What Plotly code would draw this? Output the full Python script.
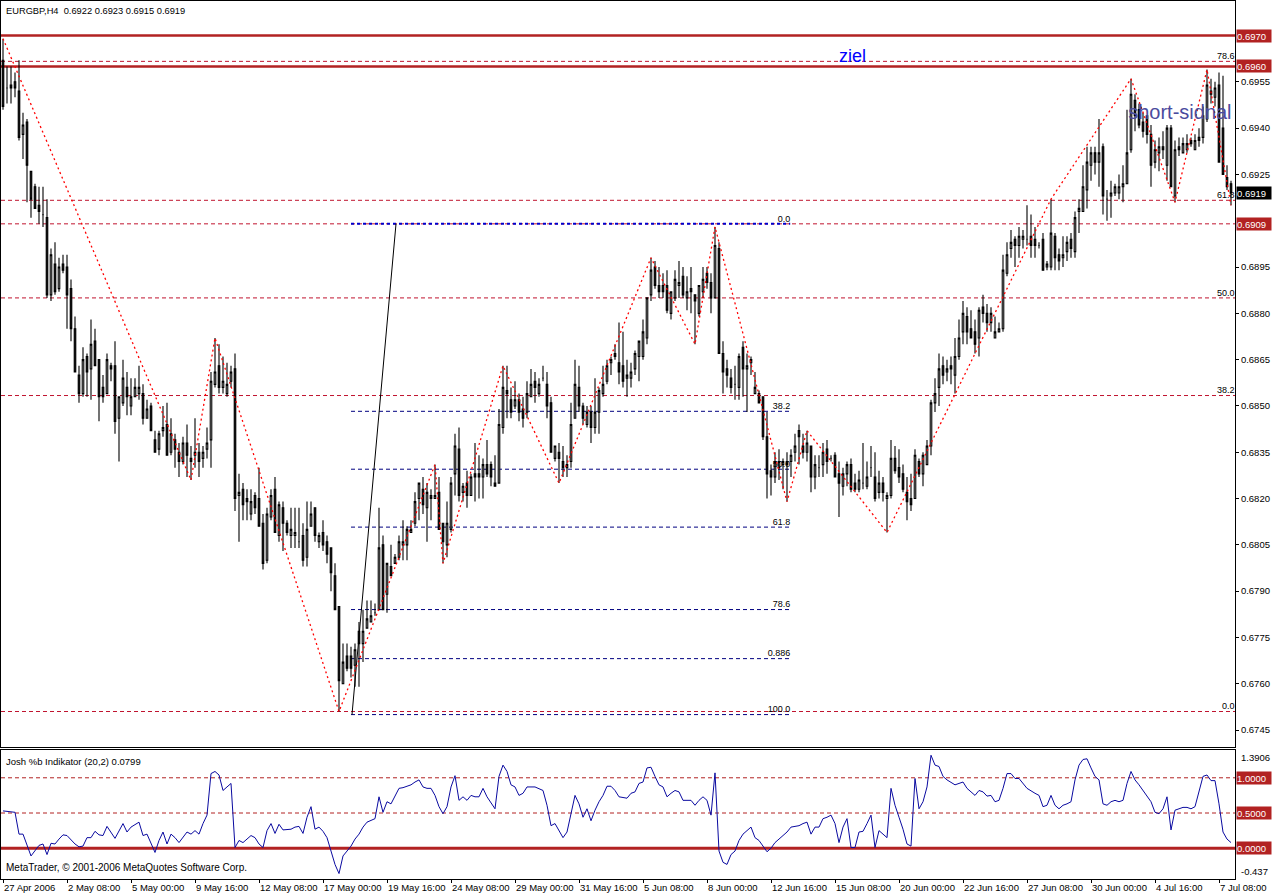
import plotly.graph_objects as go

# ---------------- data (EURGBP H4) ----------------
bars = list(range(308))

open_ = [
0.6962,0.6953,0.6954,0.6955,0.6952,0.6938,0.6942,0.6926,0.6921,0.6915,
0.6912,0.6911,0.6886,0.6896,0.6888,0.6896,0.6895,0.6888,0.6875,0.6860,
0.6854,0.6866,0.6862,0.6871,0.6865,0.6856,0.6854,0.6863,0.6863,0.6846,
0.6851,0.6856,0.6850,0.6853,0.6854,0.6854,0.6846,0.6850,0.6839,0.6836,
0.6842,0.6844,0.6835,0.6839,0.6835,0.6832,0.6838,0.6833,0.6834,0.6835,
0.6833,0.6836,0.6839,0.6857,0.6863,0.6856,0.6854,0.6858,0.6862,0.6821,
0.6823,0.6820,0.6815,0.6821,0.6820,0.6812,0.6800,0.6814,0.6823,0.6808,
0.6817,0.6812,0.6808,0.6808,0.6806,0.6808,0.6801,0.6811,0.6817,0.6806,
0.6809,0.6806,0.6804,0.6795,0.6785,0.6760,0.6769,0.6769,0.6766,0.6777,
0.6773,0.6778,0.6780,0.6783,0.6784,0.6805,0.6789,0.6798,0.6799,0.6801,
0.6805,0.6805,0.6809,0.6812,0.6820,0.6823,0.6817,0.6821,0.6820,0.6822,
0.6812,0.6805,0.6810,0.6828,0.6836,0.6822,0.6825,0.6821,0.6828,0.6828,
0.6827,0.6831,0.6831,0.6825,0.6825,0.6843,0.6855,0.6852,0.6850,0.6852,
0.6849,0.6848,0.6853,0.6858,0.6854,0.6859,0.6857,0.6851,0.6833,0.6835,
0.6832,0.6830,0.6832,0.6846,0.6856,0.6850,0.6844,0.6848,0.6843,0.6848,
0.6854,0.6858,0.6864,0.6867,0.6864,0.6863,0.6859,0.6859,0.6862,0.6866,
0.6866,0.6872,0.6886,0.6895,0.6889,0.6889,0.6889,0.6880,0.6885,0.6889,
0.6892,0.6885,0.6888,0.6886,0.6880,0.6887,0.6893,0.6890,0.6885,0.6901,
0.6867,0.6862,0.6859,0.6857,0.6856,0.6869,0.6862,0.6864,0.6854,0.6854,
0.6853,0.6840,0.6829,0.6827,0.6830,0.6831,0.6832,0.6832,0.6835,0.6842,
0.6837,0.6835,0.6837,0.6827,0.6830,0.6831,0.6836,0.6833,0.6834,0.6828,
0.6824,0.6828,0.6831,0.6825,0.6823,0.6825,0.6824,0.6830,0.6827,0.6822,
0.6825,0.6820,0.6821,0.6833,0.6830,0.6828,0.6822,0.6820,0.6820,0.6832,
0.6828,0.6831,0.6837,0.6851,0.6856,0.6863,0.6861,0.6863,0.6860,0.6866,
0.6874,0.6879,0.6875,0.6874,0.6872,0.6882,0.6880,0.6877,0.6872,0.6874,
0.6875,0.6893,0.6901,0.6904,0.6902,0.6904,0.6904,0.6905,0.6904,0.6902,
0.6904,0.6895,0.6895,0.6905,0.6899,0.6898,0.6900,0.6904,0.6900,0.6913,
0.6913,0.6920,0.6928,0.6932,0.6929,0.6934,0.6917,0.6918,0.6919,0.6919,
0.6921,0.6922,0.6933,0.6949,0.6946,0.6942,0.6944,0.6938,0.6929,0.6932,
0.6934,0.6928,0.6940,0.6918,0.6934,0.6932,0.6933,0.6936,0.6933,0.6937,
0.6937,0.6943,0.6952,0.6950,0.6954,0.6940,0.6924,0.6922]

high = [
0.6969,0.6960,0.6960,0.6958,0.6962,0.6945,0.6943,0.6926,0.6922,0.6921,
0.6921,0.6917,0.6901,0.6903,0.6898,0.6899,0.6899,0.6891,0.6879,0.6863,
0.6869,0.6867,0.6878,0.6875,0.6865,0.6860,0.6867,0.6864,0.6871,0.6853,
0.6865,0.6861,0.6859,0.6859,0.6863,0.6857,0.6852,0.6851,0.6842,0.6842,
0.6850,0.6851,0.6846,0.6841,0.6838,0.6840,0.6844,0.6837,0.6846,0.6838,
0.6837,0.6843,0.6861,0.6872,0.6870,0.6866,0.6864,0.6863,0.6867,0.6828,
0.6825,0.6823,0.6823,0.6822,0.6830,0.6815,0.6817,0.6823,0.6827,0.6819,
0.6819,0.6813,0.6817,0.6817,0.6817,0.6812,0.6819,0.6819,0.6817,0.6809,
0.6813,0.6808,0.6804,0.6799,0.6785,0.6773,0.6773,0.6772,0.6773,0.6780,
0.6784,0.6787,0.6787,0.6786,0.6817,0.6808,0.6799,0.6805,0.6802,0.6808,
0.6813,0.6811,0.6813,0.6822,0.6825,0.6827,0.6825,0.6823,0.6831,0.6827,
0.6812,0.6819,0.6827,0.6841,0.6843,0.6825,0.6829,0.6828,0.6838,0.6834,
0.6833,0.6839,0.6832,0.6834,0.6849,0.6863,0.6863,0.6856,0.6858,0.6854,
0.6853,0.6858,0.6862,0.6861,0.6859,0.6863,0.6861,0.6853,0.6837,0.6838,
0.6837,0.6834,0.6851,0.6865,0.6863,0.6851,0.6850,0.6850,0.6859,0.6856,
0.6863,0.6865,0.6866,0.6870,0.6877,0.6874,0.6865,0.6864,0.6868,0.6871,
0.6878,0.6885,0.6898,0.6897,0.6895,0.6893,0.6894,0.6887,0.6894,0.6897,
0.6895,0.6892,0.6895,0.6886,0.6889,0.6895,0.6895,0.6893,0.6908,0.6903,
0.6871,0.6865,0.6862,0.6863,0.6867,0.6871,0.6867,0.6866,0.6861,0.6855,
0.6853,0.6848,0.6831,0.6835,0.6836,0.6833,0.6835,0.6836,0.6841,0.6844,
0.6841,0.6842,0.6837,0.6834,0.6834,0.6838,0.6839,0.6834,0.6835,0.6832,
0.6830,0.6832,0.6833,0.6828,0.6829,0.6838,0.6832,0.6837,0.6835,0.6829,
0.6827,0.6822,0.6839,0.6837,0.6836,0.6831,0.6827,0.6828,0.6836,0.6833,
0.6835,0.6839,0.6852,0.6859,0.6867,0.6866,0.6865,0.6866,0.6872,0.6878,
0.6884,0.6882,0.6881,0.6878,0.6882,0.6886,0.6883,0.6882,0.6879,0.6877,
0.6899,0.6903,0.6907,0.6905,0.6908,0.6907,0.6915,0.6912,0.6908,0.6903,
0.6906,0.6897,0.6917,0.6906,0.6901,0.6905,0.6905,0.6906,0.6913,0.6917,
0.6928,0.6934,0.6934,0.6934,0.6943,0.6935,0.6920,0.6923,0.6922,0.6925,
0.6928,0.6946,0.6956,0.6951,0.6948,0.6945,0.6944,0.6941,0.6936,0.6937,
0.6939,0.6941,0.6941,0.6936,0.6937,0.6937,0.6938,0.6937,0.6938,0.6940,
0.6947,0.6959,0.6956,0.6955,0.6958,0.6957,0.6928,0.6923]

low = [
0.6946,0.6948,0.6948,0.6950,0.6936,0.6930,0.6916,0.6911,0.6914,0.6909,
0.6908,0.6885,0.6884,0.6886,0.6887,0.6893,0.6875,0.6871,0.6861,0.6851,
0.6853,0.6853,0.6852,0.6863,0.6845,0.6851,0.6854,0.6858,0.6841,0.6832,
0.6850,0.6847,0.6847,0.6853,0.6852,0.6844,0.6846,0.6842,0.6835,0.6834,
0.6840,0.6834,0.6834,0.6830,0.6827,0.6831,0.6827,0.6826,0.6830,0.6827,
0.6830,0.6833,0.6830,0.6856,0.6854,0.6854,0.6853,0.6856,0.6816,0.6806,
0.6813,0.6813,0.6813,0.6815,0.6811,0.6797,0.6799,0.6813,0.6809,0.6806,
0.6803,0.6808,0.6804,0.6804,0.6804,0.6798,0.6798,0.6811,0.6806,0.6804,
0.6803,0.6799,0.6790,0.6784,0.6751,0.6760,0.6764,0.6762,0.6759,0.6759,
0.6767,0.6778,0.6780,0.6782,0.6784,0.6784,0.6783,0.6795,0.6799,0.6800,
0.6800,0.6800,0.6809,0.6811,0.6813,0.6815,0.6806,0.6813,0.6820,0.6810,
0.6799,0.6801,0.6809,0.6821,0.6819,0.6819,0.6817,0.6821,0.6819,0.6820,
0.6820,0.6827,0.6824,0.6824,0.6825,0.6841,0.6846,0.6846,0.6849,0.6845,
0.6843,0.6846,0.6853,0.6851,0.6853,0.6858,0.6846,0.6835,0.6832,0.6825,
0.6827,0.6827,0.6830,0.6846,0.6848,0.6844,0.6843,0.6838,0.6841,0.6841,
0.6853,0.6857,0.6860,0.6865,0.6857,0.6856,0.6853,0.6856,0.6860,0.6858,
0.6865,0.6870,0.6884,0.6888,0.6885,0.6885,0.6880,0.6878,0.6884,0.6885,
0.6885,0.6881,0.6880,0.6870,0.6879,0.6885,0.6888,0.6880,0.6885,0.6867,
0.6854,0.6856,0.6854,0.6852,0.6852,0.6853,0.6848,0.6860,0.6854,0.6851,
0.6839,0.6820,0.6821,0.6825,0.6826,0.6823,0.6819,0.6827,0.6832,0.6831,
0.6833,0.6832,0.6822,0.6823,0.6827,0.6827,0.6828,0.6832,0.6827,0.6814,
0.6821,0.6824,0.6822,0.6822,0.6822,0.6823,0.6823,0.6827,0.6819,0.6820,
0.6819,0.6809,0.6820,0.6828,0.6825,0.6822,0.6813,0.6816,0.6820,0.6827,
0.6824,0.6831,0.6834,0.6848,0.6850,0.6857,0.6858,0.6857,0.6854,0.6865,
0.6870,0.6870,0.6872,0.6867,0.6866,0.6877,0.6874,0.6874,0.6872,0.6874,
0.6874,0.6892,0.6898,0.6895,0.6898,0.6901,0.6902,0.6898,0.6898,0.6901,
0.6894,0.6894,0.6894,0.6894,0.6894,0.6895,0.6897,0.6898,0.6898,0.6906,
0.6913,0.6914,0.6923,0.6925,0.6921,0.6912,0.6910,0.6911,0.6918,0.6917,
0.6916,0.6922,0.6932,0.6939,0.6940,0.6937,0.6935,0.6921,0.6927,0.6926,
0.6930,0.6923,0.6921,0.6916,0.6931,0.6932,0.6932,0.6934,0.6933,0.6934,
0.6935,0.6942,0.6948,0.6947,0.6929,0.6925,0.6920,0.6915]

close = [
0.6947,0.6953,0.6953,0.6953,0.6937,0.6941,0.6928,0.6917,0.6914,0.6913,
0.6912,0.6886,0.6899,0.6887,0.6895,0.6894,0.6886,0.6875,0.6861,0.6854,
0.6865,0.6861,0.6870,0.6863,0.6853,0.6853,0.6865,0.6862,0.6845,0.6853,
0.6859,0.6853,0.6853,0.6856,0.6856,0.6846,0.6849,0.6842,0.6835,0.6841,
0.6843,0.6834,0.6841,0.6836,0.6832,0.6838,0.6834,0.6832,0.6835,0.6832,
0.6835,0.6838,0.6858,0.6861,0.6856,0.6858,0.6857,0.6861,0.6820,0.6822,
0.6818,0.6819,0.6819,0.6817,0.6811,0.6799,0.6815,0.6821,0.6809,0.6818,
0.6812,0.6809,0.6810,0.6809,0.6806,0.6800,0.6810,0.6815,0.6808,0.6808,
0.6805,0.6802,0.6796,0.6784,0.6761,0.6767,0.6765,0.6765,0.6771,0.6773,
0.6777,0.6781,0.6782,0.6783,0.6804,0.6784,0.6799,0.6795,0.6801,0.6806,
0.6806,0.6810,0.6810,0.6819,0.6825,0.6818,0.6822,0.6820,0.6821,0.6810,
0.6806,0.6812,0.6825,0.6837,0.6821,0.6824,0.6821,0.6827,0.6827,0.6827,
0.6831,0.6828,0.6827,0.6824,0.6844,0.6856,0.6854,0.6848,0.6852,0.6848,
0.6846,0.6854,0.6857,0.6856,0.6857,0.6859,0.6850,0.6835,0.6837,0.6833,
0.6830,0.6831,0.6844,0.6857,0.6850,0.6846,0.6848,0.6843,0.6848,0.6855,
0.6857,0.6863,0.6865,0.6866,0.6861,0.6858,0.6860,0.6861,0.6867,0.6871,
0.6874,0.6885,0.6894,0.6889,0.6887,0.6887,0.6881,0.6887,0.6891,0.6890,
0.6886,0.6887,0.6887,0.6884,0.6889,0.6891,0.6890,0.6885,0.6902,0.6867,
0.6861,0.6860,0.6856,0.6857,0.6866,0.6862,0.6863,0.6865,0.6856,0.6851,
0.6840,0.6828,0.6827,0.6832,0.6832,0.6832,0.6831,0.6834,0.6837,0.6840,
0.6835,0.6838,0.6827,0.6831,0.6830,0.6835,0.6832,0.6833,0.6827,0.6825,
0.6828,0.6831,0.6823,0.6823,0.6826,0.6825,0.6827,0.6830,0.6820,0.6825,
0.6822,0.6821,0.6833,0.6829,0.6827,0.6823,0.6819,0.6818,0.6834,0.6828,
0.6834,0.6837,0.6851,0.6854,0.6862,0.6860,0.6862,0.6862,0.6866,0.6872,
0.6880,0.6874,0.6872,0.6870,0.6881,0.6880,0.6877,0.6880,0.6874,0.6875,
0.6894,0.6899,0.6903,0.6902,0.6905,0.6905,0.6904,0.6902,0.6902,0.6902,
0.6894,0.6896,0.6906,0.6898,0.6897,0.6899,0.6903,0.6901,0.6911,0.6914,
0.6921,0.6929,0.6932,0.6929,0.6932,0.6918,0.6917,0.6919,0.6921,0.6921,
0.6922,0.6932,0.6951,0.6944,0.6941,0.6939,0.6938,0.6928,0.6933,0.6934,
0.6933,0.6940,0.6921,0.6933,0.6933,0.6935,0.6935,0.6935,0.6936,0.6936,
0.6944,0.6954,0.6951,0.6953,0.6929,0.6925,0.6921,0.6919]

date_ticks = [0, 16, 32, 48, 64, 80, 96, 112, 128, 144, 160, 176, 192, 208,
              224, 240, 256, 272, 288, 304]
date_labels = ["27 Apr 2006", "2 May 08:00", "5 May 00:00", "9 May 16:00",
               "12 May 08:00", "17 May 00:00", "19 May 16:00", "24 May 08:00",
               "29 May 00:00", "31 May 16:00", "5 Jun 08:00", "8 Jun 00:00",
               "12 Jun 16:00", "15 Jun 08:00", "20 Jun 00:00", "22 Jun 16:00",
               "27 Jun 08:00", "30 Jun 00:00", "4 Jul 16:00", "7 Jul 08:00"]

price_ticks = [0.6955, 0.6940, 0.6925, 0.6895, 0.6880, 0.6865, 0.6850, 0.6835,
               0.6820, 0.6805, 0.6790, 0.6775, 0.6760, 0.6745]

# zigzag swing points
zz_bar = [0, 47, 53, 84, 108, 110, 125, 139, 162, 173, 178, 196, 201, 221,
          262, 282, 293, 301, 307]
zz_price = [0.6969, 0.6826, 0.6872, 0.6751, 0.6831, 0.6799, 0.6863, 0.6825,
            0.6898, 0.6870, 0.6908, 0.6819, 0.6842, 0.6809, 0.6917, 0.6956,
            0.6916, 0.6959, 0.6915]

# Josh %b indicator
pb_bar = [0, 3, 4, 5, 7, 8, 9, 10, 11, 12, 13, 14, 15, 16, 18, 19, 20, 21, 22, 23,
          24, 25, 26, 28, 30, 31, 32, 34, 35, 36, 37, 38, 39, 40, 41, 42, 43, 44,
          46, 47, 48, 49, 50, 51, 52, 53, 54, 55, 56, 57, 58, 59, 60, 62, 63, 64,
          65, 66, 67, 68, 69, 70, 72, 73, 74, 75, 76, 77, 78, 79, 80, 81, 82, 83,
          84, 85, 86, 87, 88, 89, 90, 91, 93, 94, 95, 96, 97, 98, 99, 100, 101,
          102, 103, 104, 105, 106, 107, 108, 109, 110, 111, 112, 113, 114, 115,
          116, 117, 118, 119, 120, 121, 123, 124, 125, 126, 127, 128, 129, 130,
          131, 133, 135, 136, 137, 138, 139, 140, 141, 142, 143, 144, 145, 146,
          147, 148, 149, 150, 151, 152, 153, 154, 156, 157, 158, 159, 160, 161,
          162, 163, 164, 165, 166, 167, 168, 169, 170, 172, 173, 174, 175, 176,
          177, 178, 179, 180, 181, 182, 183, 184, 185, 186, 187, 188, 189, 191,
          192, 193, 195, 196, 197, 199, 200, 201, 202, 203, 204, 205, 206, 207,
          208, 209, 210, 211, 212, 213, 214, 215, 216, 217, 218, 219, 220, 221,
          222, 223, 224, 225, 226, 227, 228, 229, 230, 231, 232, 233, 234, 235,
          236, 238, 239, 240, 241, 242, 243, 244, 245, 246, 247, 248, 249, 250,
          251, 252, 253, 254, 255, 256, 258, 259, 260, 261, 262, 263, 264, 265,
          266, 267, 268, 269, 270, 271, 272, 273, 274, 275, 276, 277, 278, 279,
          280, 281, 282, 283, 284, 285, 286, 287, 288, 289, 290, 291, 292, 293,
          294, 295, 296, 297, 298, 299, 300, 301, 302, 303, 304, 305, 306, 307]
pb_val = [0.53, 0.51, 0.20, 0.20, -0.11, -0.04, 0.04, 0.06, -0.09, 0.07, 0.06, 0.13,
          0.19, 0.18, 0.06, 0.02, 0.03, 0.15, 0.15, 0.24, 0.19, 0.18, 0.31, 0.14,
          0.35, 0.23, 0.30, 0.37, 0.18, 0.20, 0.06, -0.06, 0.11, 0.23, 0.06, 0.20,
          0.15, 0.08, 0.23, 0.20, 0.25, 0.20, 0.35, 0.47, 1.06, 1.09, 1.04, 0.82,
          0.87, 0.92, 0.01, 0.11, 0.08, 0.18, 0.15, 0.06, 0.01, 0.25, 0.35, 0.21,
          0.34, 0.26, 0.27, 0.30, 0.31, 0.21, 0.44, 0.59, 0.27, 0.30, 0.24, 0.15,
          -0.04, -0.23, -0.36, -0.11, -0.04, 0.03, 0.13, 0.20, 0.30, 0.37, 0.42,
          0.73, 0.51, 0.66, 0.63, 0.73, 0.85, 0.86, 0.88, 0.90, 0.94, 0.97, 0.87,
          0.85, 0.85, 0.75, 0.59, 0.49, 0.59, 0.87, 1.03, 0.68, 0.73, 0.68, 0.75,
          0.73, 0.73, 0.85, 0.73, 0.56, 1.02, 1.18, 1.09, 0.90, 0.87, 0.75, 0.78,
          0.87, 0.87, 0.82, 0.61, 0.32, 0.35, 0.25, 0.15, 0.23, 0.47, 0.75, 0.63,
          0.44, 0.56, 0.39, 0.54, 0.66, 0.75, 0.88, 0.88, 0.82, 0.73, 0.71, 0.78,
          0.80, 0.92, 0.94, 1.14, 1.15, 1.02, 0.90, 0.87, 0.73, 0.78, 0.82, 0.80,
          0.68, 0.68, 0.61, 0.68, 0.73, 0.68, 0.47, 1.07, -0.04, -0.20, -0.23,
          -0.09, -0.04, 0.11, 0.20, 0.25, 0.30, 0.15, 0.11, -0.05, 0.00, 0.08,
          0.18, 0.23, 0.30, 0.32, 0.35, 0.37, 0.20, 0.30, 0.30, 0.42, 0.44, 0.47,
          0.35, 0.08, 0.30, 0.42, 0.01, 0.01, 0.23, 0.24, 0.35, 0.47, 0.01, 0.25,
          0.20, 0.15, 0.85, 0.61, 0.44, 0.27, 0.06, 0.03, 0.99, 0.56, 0.66, 0.87,
          1.32, 1.18, 1.16, 1.02, 0.97, 0.90, 0.92, 0.94, 0.85, 0.80, 0.75, 0.82,
          0.80, 0.74, 0.75, 0.66, 0.68, 0.85, 1.06, 1.06, 0.99, 0.99, 0.92, 0.85,
          0.78, 0.75, 0.59, 0.61, 0.75, 0.61, 0.56, 0.61, 0.63, 0.66, 0.97, 1.18,
          1.26, 1.27, 1.14, 1.02, 0.97, 0.63, 0.61, 0.66, 0.68, 0.66, 0.68, 0.92,
          1.09, 0.97, 0.90, 0.82, 0.75, 0.66, 0.51, 0.49, 0.56, 0.73, 0.26, 0.54,
          0.56, 0.58, 0.58, 0.56, 0.59, 0.82, 1.02, 1.04, 0.96, 0.96, 0.63, 0.23,
          0.13, 0.08]

# horizontal line objects
solid_levels = [0.6970, 0.6960]
dash_level = 0.6909

# right-hand Fibonacci (full width, red)
fibR_zero, fibR_hundred = 0.6751, 0.7019
fibR_ratio = [0.0, 0.382, 0.5, 0.618, 0.786]
fibR_text = ["0.0", "38.2", "50.0", "61.8", "78.6"]

# left-hand Fibonacci (navy)
fibL_zero, fibL_hundred = 0.6909, 0.6750
fibL_ratio = [0.0, 0.382, 0.5, 0.618, 0.786, 0.886, 1.0]
fibL_text = ["0.0", "38.2", "50.0", "61.8", "78.6", "0.886", "100.0"]
fibL_x0, fibL_x1 = 87, 196.8
fibL_diag_x = [87.25, 98.25]

ind_levels_dash = [1.0, 0.5]
ind_min, ind_max = -0.437, 1.3906
ind_last_text = "0.0799"

# ---------------- figure ----------------
FONT = "Liberation Sans, Arial, sans-serif"
RED_SOLID = "#B22222"
RED_DASH = "#C0142F"
NAVY = "#000080"

fig = go.Figure()

shapes = []
for lv in solid_levels:
    shapes.append(dict(type="line", xref="x domain", yref="y", x0=0, x1=1, y0=lv, y1=lv,
                       line=dict(color=RED_SOLID, width=2.5), layer="below"))
shapes.append(dict(type="line", xref="x domain", yref="y", x0=0, x1=1, y0=dash_level,
                   y1=dash_level, line=dict(color=RED_DASH, width=1, dash="4px,3px"),
                   layer="below"))
fibR_prices = [fibR_zero + r * (fibR_hundred - fibR_zero) for r in fibR_ratio]
for p in fibR_prices:
    shapes.append(dict(type="line", xref="x domain", yref="y", x0=0, x1=1, y0=p, y1=p,
                       line=dict(color=RED_DASH, width=1, dash="4px,3px"), layer="below"))
fibL_prices = [fibL_zero - r * (fibL_zero - fibL_hundred) for r in fibL_ratio]
for i, p in enumerate(fibL_prices):
    if i == 0:
        ln = dict(color="#0000CD", width=2, dash="3px,3px")
    else:
        ln = dict(color=NAVY, width=1, dash="4px,3px")
    shapes.append(dict(type="line", xref="x", yref="y", x0=fibL_x0, x1=fibL_x1,
                       y0=p, y1=p, line=ln, layer="below"))
shapes.append(dict(type="line", xref="x", yref="y", x0=fibL_diag_x[0], x1=fibL_diag_x[1],
                   y0=fibL_hundred, y1=fibL_zero, line=dict(color="black", width=1),
                   layer="below"))
for lv in ind_levels_dash:
    shapes.append(dict(type="line", xref="x2 domain", yref="y2", x0=0, x1=1, y0=lv, y1=lv,
                       line=dict(color=RED_SOLID, width=1, dash="4px,3px"), layer="below"))
shapes.append(dict(type="line", xref="x2 domain", yref="y2", x0=0, x1=1, y0=0, y1=0,
                   line=dict(color=RED_SOLID, width=3), layer="below"))

# fib labels (drawn under candles)
fig.add_trace(go.Scatter(
    x=[307.9] * len(fibR_prices), y=fibR_prices, text=fibR_text, mode="text",
    textposition="top left", textfont=dict(family=FONT, size=9, color="black"),
    hoverinfo="skip", showlegend=False, xaxis="x", yaxis="y"))
fig.add_trace(go.Scatter(
    x=[fibL_x1] * len(fibL_prices), y=fibL_prices, text=fibL_text, mode="text",
    textposition="top left", textfont=dict(family=FONT, size=9, color="black"),
    hoverinfo="skip", showlegend=False, xaxis="x", yaxis="y"))

fig.add_trace(go.Candlestick(
    x=bars, open=open_, high=high, low=low, close=close,
    increasing=dict(fillcolor="white", line=dict(color="black", width=1.1)),
    decreasing=dict(fillcolor="black", line=dict(color="black", width=1.1)),
    whiskerwidth=0, showlegend=False, xaxis="x", yaxis="y", hoverinfo="skip"))

fig.add_trace(go.Scatter(
    x=zz_bar, y=zz_price, mode="lines",
    line=dict(color="#FF0000", width=1.3, dash="2px,3px"),
    hoverinfo="skip", showlegend=False, xaxis="x", yaxis="y"))

fig.add_trace(go.Scatter(
    x=pb_bar, y=pb_val, mode="lines", line=dict(color="#0A0AA0", width=1),
    hoverinfo="skip", showlegend=False, xaxis="x2", yaxis="y2"))

# chart texts
fig.add_trace(go.Scatter(
    x=[209], y=[0.6963], text=["ziel"], mode="text", textposition="middle right",
    textfont=dict(family=FONT, size=18, color="#0000FF"), hoverinfo="skip",
    showlegend=False, xaxis="x", yaxis="y", cliponaxis=True))
fig.add_trace(go.Scatter(
    x=[281.3], y=[0.69447], text=["short-sidnal"], mode="text",
    textposition="middle right",
    textfont=dict(family=FONT, size=20, color="#4B4B9E"), hoverinfo="skip",
    showlegend=False, xaxis="x", yaxis="y", cliponaxis=False))

ann = []
def box(y, text, bg, yref="y"):
    ann.append(dict(xref="paper", x=1, xanchor="left", xshift=1, yref=yref, y=y,
                    yanchor="middle", text=text, showarrow=False, bgcolor=bg,
                    font=dict(family=FONT, size=9.5, color="white"), width=34,
                    height=12, borderpad=0, align="left"))

box(0.6970, "0.6970", RED_SOLID)
box(0.6960, "0.6960", RED_SOLID)
box(0.6919, "0.6919", "black")
box(0.6909, "0.6909", RED_SOLID)
box(1.0, "1.0000", RED_SOLID, "y2")
box(0.5, "0.5000", RED_SOLID, "y2")
box(0.0, "0.0000", RED_SOLID, "y2")

ann.append(dict(xref="paper", x=1, xanchor="left", xshift=4, yref="y2", y=ind_max,
                yanchor="top", text=f"{ind_max:.4f}", showarrow=False,
                font=dict(family=FONT, size=9.5, color="black")))
ann.append(dict(xref="paper", x=1, xanchor="left", xshift=4, yref="y2", y=ind_min,
                yanchor="bottom", text=f"{ind_min:.3f}", showarrow=False,
                font=dict(family=FONT, size=9.5, color="black")))

ann.append(dict(xref="paper", x=0, xanchor="left", xshift=3, yref="paper", y=1,
                yanchor="middle", yshift=-10,
                text="EURGBP,H4\u00a0\u00a0" + f"{open_[-1]:.4f} {high[-1]:.4f} {low[-1]:.4f} {close[-1]:.4f}",
                showarrow=False, font=dict(family=FONT, size=9.3, color="black")))
ann.append(dict(xref="paper", x=0, xanchor="left", xshift=3, yref="y2", y=ind_max,
                yanchor="middle", yshift=-11,
                text="Josh %b Indikator (20,2) " + ind_last_text,
                showarrow=False, font=dict(family=FONT, size=9.5, color="black")))
ann.append(dict(xref="paper", x=0, xanchor="left", xshift=3, yref="y2", y=ind_min,
                yanchor="middle", yshift=11,
                text="MetaTrader, © 2001-2006 MetaQuotes Software Corp.",
                showarrow=False, font=dict(family=FONT, size=10, color="black")))

axis_common = dict(showgrid=False, zeroline=False, showline=True, mirror=True,
                   linecolor="black", linewidth=1)

fig.update_layout(
    width=1272, height=893,
    margin=dict(l=1, r=37, t=0, b=13),
    paper_bgcolor="white", plot_bgcolor="white",
    showlegend=False, boxgap=0.45,
    font=dict(family=FONT, size=10, color="black"),
    shapes=shapes, annotations=ann,
    xaxis=dict(domain=[0, 1], anchor="y", range=[-0.5, 308], showticklabels=False,
               ticks="", rangeslider=dict(visible=False), **axis_common),
    yaxis=dict(domain=[0.15, 1], anchor="x", side="right", range=[0.67394, 0.69812],
               tickvals=price_ticks, ticktext=[f"{v:.4f}" for v in price_ticks],
               ticks="outside", ticklen=3, tickcolor="black",
               tickfont=dict(family=FONT, size=9.5, color="black"), **axis_common),
    xaxis2=dict(domain=[0, 1], anchor="y2", range=[-0.5, 308], matches="x",
                tickvals=date_ticks, ticktext=date_labels, ticks="outside", ticklen=3,
                tickcolor="black", ticklabelposition="outside right", tickangle=0,
                tickfont=dict(family=FONT, size=9.5, color="black"),
                rangeslider=dict(visible=False), **axis_common),
    yaxis2=dict(domain=[0, 0.1466], anchor="x2", side="right", range=[ind_min, ind_max],
                showticklabels=False, ticks="", **axis_common),
)

fig.write_html("out.html", config={"displayModeBar": False},
               post_script="document.body.style.margin='0';"
                           "document.body.style.overflow='hidden';")
